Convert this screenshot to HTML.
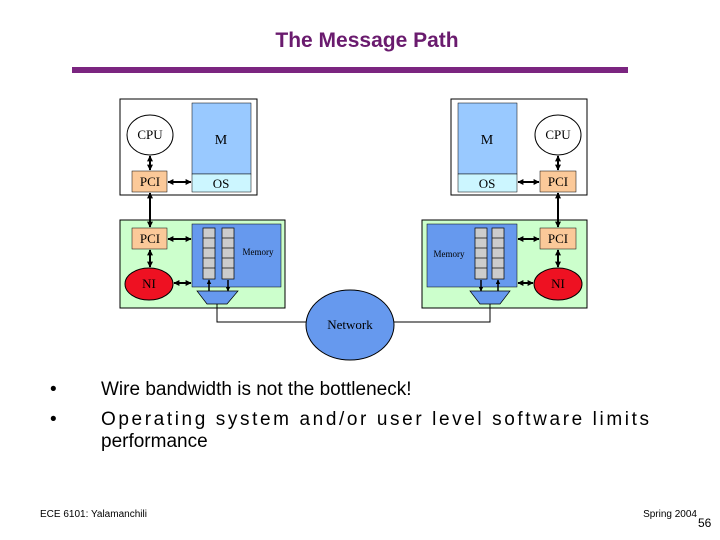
<!DOCTYPE html>
<html><head><meta charset="utf-8"><style>
body{margin:0;background:#fff;}
svg{display:block;}
</style></head><body>
<svg width="720" height="540" xmlns="http://www.w3.org/2000/svg" font-family="Liberation Serif, serif">
<defs>
<marker id="a" viewBox="0 0 10 10" refX="9" refY="5" markerWidth="3" markerHeight="3" orient="auto-start-reverse"><path d="M0,0L10,5L0,10z" fill="#000"/></marker>
</defs>
<text x="367" y="47" text-anchor="middle" font-family="Liberation Sans, sans-serif" font-weight="bold" font-size="21" fill="#6a1b6e">The Message Path</text>
<rect x="72" y="67" width="556" height="6" fill="#7b2580"/>

<!-- Left host -->
<rect x="120" y="99" width="137" height="96" fill="#fff" stroke="#000"/>
<ellipse cx="150" cy="135" rx="23" ry="20" fill="#fff" stroke="#000"/>
<text x="150" y="139" text-anchor="middle" font-size="13">CPU</text>
<rect x="192" y="103" width="59" height="71" fill="#99c9ff" stroke="#000" stroke-width="0.5"/>
<text x="221" y="144" text-anchor="middle" font-size="14">M</text>
<rect x="192" y="174" width="59" height="18" fill="#ccf6ff" stroke="#000" stroke-width="0.5"/>
<text x="221" y="188" text-anchor="middle" font-size="13">OS</text>
<rect x="132" y="171" width="35" height="21" fill="#fbc999" stroke="#000" stroke-width="0.5"/>
<text x="150" y="186" text-anchor="middle" font-size="13">PCI</text>

<rect x="120" y="220" width="165" height="88" fill="#ccffcc" stroke="#000"/>
<rect x="192" y="224" width="89" height="63" fill="#6699ee" stroke="#000" stroke-width="0.5"/>
<text x="258" y="255" text-anchor="middle" font-size="9">Memory</text>
<rect x="132" y="228" width="35" height="21" fill="#fbc999" stroke="#000" stroke-width="0.5"/>
<text x="150" y="243" text-anchor="middle" font-size="13">PCI</text>
<ellipse cx="149" cy="284" rx="24" ry="16" fill="#ee1122" stroke="#000"/>
<text x="149" y="288" text-anchor="middle" font-size="13">NI</text>
<g fill="#ccc" stroke="#000" stroke-width="0.7">
<rect x="203" y="228" width="12" height="51"/><rect x="222" y="228" width="12" height="51"/>
</g>
<g stroke="#000" stroke-width="0.7">
<line x1="203" y1="238" x2="215" y2="238"/><line x1="203" y1="248" x2="215" y2="248"/><line x1="203" y1="258" x2="215" y2="258"/><line x1="203" y1="268" x2="215" y2="268"/>
<line x1="222" y1="238" x2="234" y2="238"/><line x1="222" y1="248" x2="234" y2="248"/><line x1="222" y1="258" x2="234" y2="258"/><line x1="222" y1="268" x2="234" y2="268"/>
</g>
<polygon points="197,291 238,291 227,304 207,304" fill="#6699ee" stroke="#000" stroke-width="0.7"/>

<!-- Right host -->
<rect x="451" y="99" width="136" height="96" fill="#fff" stroke="#000"/>
<ellipse cx="558" cy="135" rx="23" ry="20" fill="#fff" stroke="#000"/>
<text x="558" y="139" text-anchor="middle" font-size="13">CPU</text>
<rect x="458" y="103" width="59" height="71" fill="#99c9ff" stroke="#000" stroke-width="0.5"/>
<text x="487" y="144" text-anchor="middle" font-size="14">M</text>
<rect x="458" y="174" width="59" height="18" fill="#ccf6ff" stroke="#000" stroke-width="0.5"/>
<text x="487" y="188" text-anchor="middle" font-size="13">OS</text>
<rect x="540" y="171" width="36" height="21" fill="#fbc999" stroke="#000" stroke-width="0.5"/>
<text x="558" y="186" text-anchor="middle" font-size="13">PCI</text>

<rect x="422" y="220" width="165" height="88" fill="#ccffcc" stroke="#000"/>
<rect x="427" y="224" width="90" height="63" fill="#6699ee" stroke="#000" stroke-width="0.5"/>
<text x="449" y="257" text-anchor="middle" font-size="9">Memory</text>
<rect x="540" y="228" width="36" height="21" fill="#fbc999" stroke="#000" stroke-width="0.5"/>
<text x="558" y="243" text-anchor="middle" font-size="13">PCI</text>
<ellipse cx="558" cy="284" rx="24" ry="16" fill="#ee1122" stroke="#000"/>
<text x="558" y="288" text-anchor="middle" font-size="13">NI</text>
<g fill="#ccc" stroke="#000" stroke-width="0.7">
<rect x="475" y="228" width="12" height="51"/><rect x="492" y="228" width="12" height="51"/>
</g>
<g stroke="#000" stroke-width="0.7">
<line x1="475" y1="238" x2="487" y2="238"/><line x1="475" y1="248" x2="487" y2="248"/><line x1="475" y1="258" x2="487" y2="258"/><line x1="475" y1="268" x2="487" y2="268"/>
<line x1="492" y1="238" x2="504" y2="238"/><line x1="492" y1="248" x2="504" y2="248"/><line x1="492" y1="258" x2="504" y2="258"/><line x1="492" y1="268" x2="504" y2="268"/>
</g>
<polygon points="470,291 510,291 500,304 480,304" fill="#6699ee" stroke="#000" stroke-width="0.7"/>

<!-- arrows -->
<g stroke="#000" stroke-width="2" marker-start="url(#a)" marker-end="url(#a)">
<line x1="150" y1="156" x2="150" y2="170"/>
<line x1="168" y1="182" x2="191" y2="182"/>
<line x1="150" y1="193" x2="150" y2="227"/>
<line x1="168" y1="239" x2="191" y2="239"/>
<line x1="150" y1="250" x2="150" y2="267"/>
<line x1="174" y1="283" x2="191" y2="283"/>
<line x1="558" y1="156" x2="558" y2="170"/>
<line x1="518" y1="182" x2="539" y2="182"/>
<line x1="558" y1="193" x2="558" y2="227"/>
<line x1="518" y1="239" x2="539" y2="239"/>
<line x1="558" y1="250" x2="558" y2="267"/>
<line x1="518" y1="283" x2="533" y2="283"/>
</g>
<g stroke="#000" stroke-width="1.5" marker-end="url(#a)">
<line x1="209" y1="291" x2="209" y2="280"/>
<line x1="228" y1="280" x2="228" y2="291"/>
<line x1="481" y1="280" x2="481" y2="291"/>
<line x1="498" y1="291" x2="498" y2="280"/>
</g>

<!-- network -->
<polyline points="217,304 217,322 307,322" fill="none" stroke="#000"/>
<polyline points="490,304 490,322 393,322" fill="none" stroke="#000"/>
<ellipse cx="350" cy="325" rx="44" ry="35" fill="#6699ee" stroke="#000"/>
<text x="350" y="329" text-anchor="middle" font-size="13">Network</text>

<g font-family="Liberation Sans, sans-serif" font-size="19" fill="#000">
<text x="50" y="395">•</text>
<text x="101" y="395">Wire bandwidth is not the bottleneck!</text>
<text x="50" y="425">•</text>
<text x="101" y="425" textLength="548" lengthAdjust="spacing">Operating  system  and/or  user  level  software  limits</text>
<text x="101" y="447">performance</text>
</g>
<text x="40" y="517" font-family="Liberation Sans, sans-serif" font-size="10">ECE 6101: Yalamanchili</text>
<text x="697" y="517" text-anchor="end" font-family="Liberation Sans, sans-serif" font-size="10">Spring 2004</text>
<text x="698" y="527" font-family="Liberation Sans, sans-serif" font-size="12">56</text>
</svg>
</body></html>
